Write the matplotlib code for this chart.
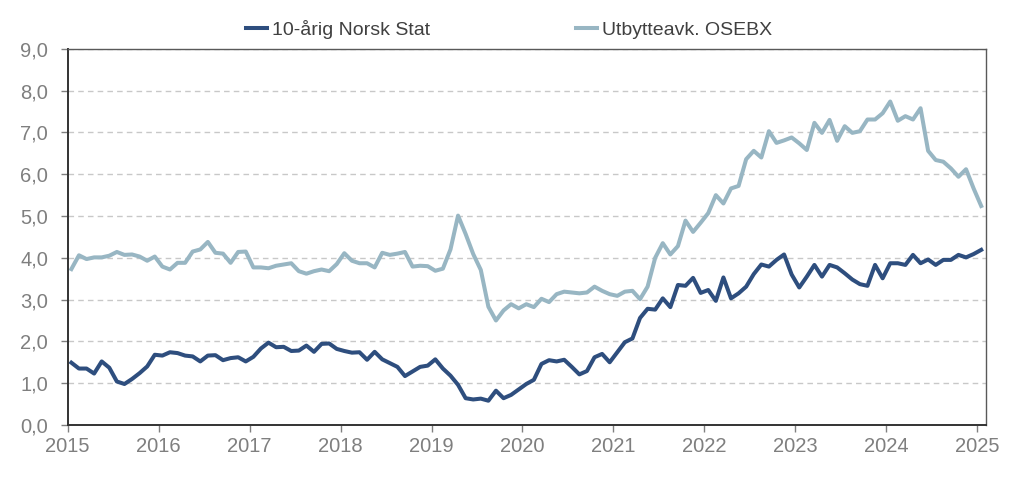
import numpy as np
import matplotlib
matplotlib.use("Agg")
import matplotlib.pyplot as plt
from matplotlib.ticker import FuncFormatter

plt.rcParams['font.family'] = ['Liberation Sans', 'DejaVu Sans']

# monthly observations, Jan 2015 - Jan 2025
start_year = 2015
stat10 = [
    1.49, 1.35, 1.35, 1.23, 1.52, 1.37, 1.04, 0.98, 1.10, 1.24, 1.40, 1.68,
    1.66, 1.74, 1.72, 1.66, 1.64, 1.52, 1.66, 1.67, 1.55, 1.60, 1.62, 1.52,
    1.63, 1.83, 1.97, 1.86, 1.87, 1.77, 1.78, 1.90, 1.75, 1.94, 1.95, 1.82,
    1.77, 1.73, 1.74, 1.56, 1.75, 1.57, 1.48, 1.39, 1.17, 1.28, 1.39, 1.42,
    1.57, 1.35, 1.18, 0.96, 0.64, 0.61, 0.63, 0.58, 0.82, 0.64, 0.72, 0.85,
    0.98, 1.08, 1.46, 1.55, 1.52, 1.56, 1.39, 1.21, 1.29, 1.62, 1.70, 1.50,
    1.74, 1.98, 2.07, 2.56, 2.78, 2.76, 3.03, 2.82, 3.35, 3.33, 3.52, 3.16,
    3.23, 2.97, 3.53, 3.03, 3.15, 3.31, 3.61, 3.84, 3.79, 3.95, 4.08, 3.60,
    3.29, 3.55, 3.83, 3.55, 3.83, 3.77, 3.63, 3.48, 3.37, 3.33, 3.83, 3.51,
    3.87, 3.87, 3.83, 4.07, 3.87, 3.96, 3.83, 3.95, 3.95, 4.07, 4.01, 4.09,
    4.19,
]
osebx = [
    3.73, 4.06, 3.97, 4.01, 4.01, 4.05, 4.14, 4.07, 4.08, 4.03, 3.93, 4.03,
    3.79, 3.72, 3.88, 3.88, 4.15, 4.20, 4.38, 4.12, 4.10, 3.88, 4.14, 4.15,
    3.77, 3.77, 3.75, 3.81, 3.84, 3.87, 3.68, 3.62, 3.68, 3.72, 3.68, 3.85,
    4.11, 3.93, 3.87, 3.87, 3.77, 4.12, 4.07, 4.10, 4.14, 3.79, 3.81, 3.80,
    3.69, 3.74, 4.20, 5.01, 4.57, 4.09, 3.71, 2.83, 2.50, 2.74, 2.89, 2.79,
    2.89, 2.82, 3.02, 2.94, 3.13, 3.19, 3.17, 3.15, 3.17, 3.31, 3.21, 3.13,
    3.09, 3.19, 3.21, 3.01, 3.31, 4.00, 4.35, 4.08, 4.28, 4.89, 4.62, 4.84,
    5.07, 5.50, 5.30, 5.66, 5.72, 6.36, 6.56, 6.40, 7.03, 6.75, 6.81, 6.88,
    6.74, 6.58, 7.23, 6.99, 7.30, 6.80, 7.15, 6.99, 7.03, 7.31, 7.31, 7.46,
    7.74, 7.28, 7.39, 7.31, 7.58, 6.56, 6.34, 6.30, 6.14, 5.94, 6.12, 5.66,
    5.24,
]
labels = ["10-årig Norsk Stat", "Utbytteavk. OSEBX"]
year_ticks = list(range(2015, 2026))

# points sit mid-month
x = start_year + (np.arange(len(stat10)) + 0.5) / 12

fig = plt.figure(figsize=(10.24, 4.84), dpi=100)
ax = fig.add_axes([0.066, 0.122, 0.8965, 0.777])

ax.plot(x, stat10, color='#2e4e7e', lw=2.9, label=labels[0], solid_joinstyle='round')
ax.plot(x, osebx, color='#98b6c3', lw=2.9, label=labels[1], solid_joinstyle='round')

ax.set_xlim(2015, 2025.09)
ax.set_ylim(0, 9)
ax.set_yticks(np.arange(0, 10, 1))
ax.yaxis.set_major_formatter(FuncFormatter(lambda v, p: f"{v:.1f}".replace('.', ',')))
ax.set_xticks(year_ticks)

ax.grid(axis='y', color='#c8c8c8', ls=(0, (4, 3)), lw=1)
ax.set_axisbelow(True)

for s in ['top', 'right']:
    ax.spines[s].set_color('#595959')
    ax.spines[s].set_linewidth(1.0)
for s in ['left', 'bottom']:
    ax.spines[s].set_color('#333333')
    ax.spines[s].set_linewidth(1.4)

ax.tick_params(axis='both', direction='out', length=5, width=1, color='#808080',
               labelcolor='#7f7f7f', labelsize=14.5)
ax.tick_params(axis='x', pad=4)
ax.tick_params(axis='y', pad=9)

fig.legend(loc='upper center', bbox_to_anchor=(0.497, 0.995), ncol=2, frameon=False,
           fontsize=14, handlelength=1.1, handletextpad=0.25, columnspacing=7.5,
           labelcolor='#404040')

fig.savefig('out.png', dpi=100)
